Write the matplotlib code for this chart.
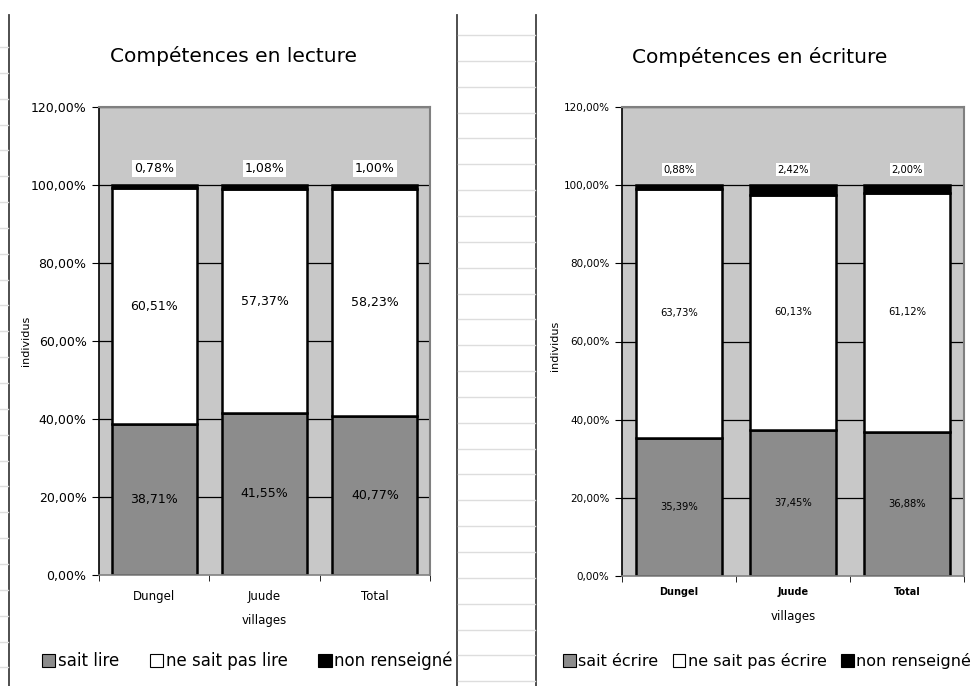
import numpy as np
import matplotlib
matplotlib.use("Agg")
import matplotlib.pyplot as plt
from matplotlib.patches import Patch
from matplotlib.lines import Line2D

# data (percent)
villages = ["Dungel", "Juude", "Total"]

lire_oui = [38.71, 41.55, 40.77]
lire_non = [60.51, 57.37, 58.23]
lire_nr = [0.78, 1.08, 1.00]

ecrire_oui = [35.39, 37.45, 36.88]
ecrire_non = [63.73, 60.13, 61.12]
ecrire_nr = [0.88, 2.42, 2.00]

yticks = [0, 20, 40, 60, 80, 100, 120]

c_bg = "#c8c8c8"
c_oui = "#8c8c8c"
c_non = "#ffffff"
c_nr = "#000000"

W, H = 973, 686
fig = plt.figure(figsize=(W / 100, H / 100), dpi=100)
fig.patch.set_facecolor("white")


def fmt(v):
    return ("%.2f%%" % v).replace(".", ",")


def px_axes(x0, y0, x1, y1):
    # pixel box (top-left origin) -> axes
    return fig.add_axes([x0 / W, 1 - y1 / H, (x1 - x0) / W, (y1 - y0) / H])


def draw_chart(ax, oui, non, nr, small, top_off, bar_w, ylab_xy):
    x = np.arange(len(villages))
    ax.set_facecolor(c_bg)
    ax.set_xlim(-0.5, len(villages) - 0.5)
    ax.set_ylim(0, 120)
    for y in yticks[1:]:
        ax.axhline(y, color="black", lw=0.9, zorder=1)
    b1 = np.array(oui)
    b2 = b1 + np.array(non)
    ax.bar(x, oui, bar_w, color=c_oui, edgecolor="black", lw=1.8, zorder=2)
    ax.bar(x, non, bar_w, bottom=b1, color=c_non, edgecolor="black", lw=1.8, zorder=2)
    ax.bar(x, nr, bar_w, bottom=b2, color=c_nr, edgecolor="black", lw=1.8, zorder=2)

    fs = 7.2 if small else 9
    for i in range(len(x)):
        ax.text(x[i], oui[i] / 2, fmt(oui[i]), ha="center", va="center", fontsize=fs, zorder=3)
        ax.text(x[i], b1[i] + non[i] / 2, fmt(non[i]), ha="center", va="center", fontsize=fs, zorder=3)
        ax.annotate(fmt(nr[i]), (x[i], 100), xytext=(0, top_off), textcoords="offset points",
                    ha="center", va="center", fontsize=fs, zorder=3,
                    bbox=dict(boxstyle="square,pad=0.15", fc="white", ec="none"))

    ax.set_yticks(yticks)
    ax.set_yticklabels([fmt(v) for v in yticks], fontsize=7.5 if small else 9)
    ax.set_xticks(x)
    ax.set_xticklabels(villages, fontsize=7 if small else 8.5,
                       fontweight="bold" if small else "normal")
    ax.set_xticks(np.arange(len(villages) + 1) - 0.5, minor=True)
    ax.tick_params(axis="x", which="major", length=0, pad=8 if small else 11)
    ax.tick_params(axis="x", which="minor", length=4, direction="out")
    ax.tick_params(axis="y", length=5, direction="out", pad=4)
    ax.set_xlabel("villages", fontsize=8.5, labelpad=9 if small else 8)
    ax.set_ylabel("individus", fontsize=8)
    ax.yaxis.set_label_coords(*ylab_xy)
    for s in ["top", "right"]:
        ax.spines[s].set_color("#808080")
        ax.spines[s].set_linewidth(1.5)
    ax.spines["left"].set_linewidth(1.2)
    ax.spines["bottom"].set_linewidth(1.2)
    ax.spines["bottom"].set_color("#808080")


ax1 = px_axes(99, 107, 430, 575)
draw_chart(ax1, lire_oui, lire_non, lire_nr, False, 12, 0.77, (-0.205, 0.5))
ax2 = px_axes(622, 107, 964, 576)
draw_chart(ax2, ecrire_oui, ecrire_non, ecrire_nr, True, 11, 0.76, (-0.18, 0.49))

fig.text(233 / W, 1 - 56 / H, "Compétences en lecture", ha="center", va="center", fontsize=14.5)
fig.text(760 / W, 1 - 57 / H, "Compétences en écriture", ha="center", va="center", fontsize=14.5)


def legend(x, y, names, spacing, fs):
    handles = [Patch(fc=c, ec="black", lw=0.8) for c in (c_oui, c_non, c_nr)]
    fig.legend(handles, names, loc="center left", bbox_to_anchor=(x / W, 1 - y / H),
               ncol=3, frameon=False, fontsize=fs, handlelength=0.8, handleheight=0.8,
               handletextpad=0.15, columnspacing=spacing, borderpad=0, borderaxespad=0)


legend(42, 661, ["sait lire", "ne sait pas lire", "non renseigné"], 1.85, 12)
legend(563, 661, ["sait écrire", "ne sait pas écrire", "non renseigné"], 0.9, 11.5)

# spreadsheet background (screenshot frame)
for xl in (9, 456.5, 536):
    fig.add_artist(Line2D([xl / W] * 2, [1 - 15 / H, 0], color="#404040", lw=1.3))
for k in range(26):
    yl = 35 + 25.85 * k
    fig.add_artist(Line2D([457.5 / W, 535 / W], [1 - yl / H] * 2, color="#dddddd", lw=1))
    fig.add_artist(Line2D([0, 8 / W], [1 - (yl + 12) / H] * 2, color="#dddddd", lw=1))

fig.savefig("out.png", dpi=100)
